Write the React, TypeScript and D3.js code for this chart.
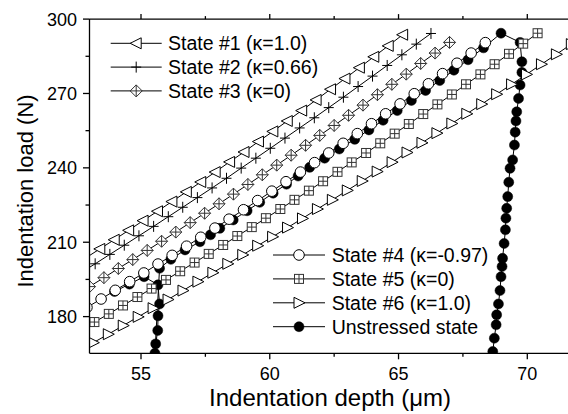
import React from "react";
import * as d3 from "d3";

// indentation depth (um) / load (N)
const state1X = [52.8, 53.4, 53.96, 54.52, 55.08, 55.64, 56.2, 56.76, 57.32, 57.88, 58.44, 59.0, 59.56, 60.12, 60.68, 61.24, 61.8, 62.36, 62.92, 63.48, 64.04, 64.6, 65.16];
const state1Y = [203.3, 207.3, 211.0, 214.8, 218.7, 222.5, 226.4, 230.3, 234.3, 238.3, 242.4, 246.4, 250.6, 254.7, 258.9, 263.1, 267.4, 271.7, 276.0, 280.4, 284.8, 289.2, 293.7];

const state2X = [52.66, 53.22, 53.79, 54.35, 54.92, 55.49, 56.06, 56.62, 57.19, 57.76, 58.32, 58.89, 59.46, 60.02, 60.59, 61.16, 61.73, 62.29, 62.86, 63.43, 63.99, 64.56, 65.13, 65.69, 66.26];
const state2Y = [197.7, 201.3, 205.1, 208.8, 212.6, 216.4, 220.3, 224.1, 228.0, 231.9, 235.8, 239.9, 243.9, 247.9, 252.0, 256.1, 260.2, 264.3, 268.5, 272.8, 277.0, 281.3, 285.6, 289.9, 294.2];

const state3X = [53.0, 53.56, 54.12, 54.68, 55.24, 55.8, 56.35, 56.91, 57.47, 58.03, 58.59, 59.15, 59.71, 60.27, 60.83, 61.39, 61.94, 62.5, 63.06, 63.62, 64.18, 64.74, 65.3, 65.86, 66.42, 66.98];
const state3Y = [192.1, 195.7, 199.4, 203.0, 206.7, 210.4, 214.1, 217.9, 221.7, 225.5, 229.4, 233.3, 237.2, 241.1, 245.1, 249.1, 253.1, 257.1, 261.2, 265.3, 269.5, 273.7, 277.8, 282.1, 286.3, 290.6];

const state4X = [52.9, 53.45, 54.0, 54.56, 55.11, 55.66, 56.21, 56.77, 57.32, 57.87, 58.42, 58.98, 59.53, 60.08, 60.63, 61.19, 61.74, 62.29, 62.85, 63.4, 63.95, 64.5, 65.06, 65.61, 66.16, 66.71, 67.27, 67.82, 68.37];
const state4Y = [183.7, 187.1, 190.6, 194.1, 197.6, 201.2, 204.7, 208.4, 212.0, 215.7, 219.3, 223.1, 226.8, 230.6, 234.4, 238.3, 242.1, 246.0, 249.9, 253.8, 257.8, 261.8, 265.8, 269.9, 273.9, 278.0, 282.2, 286.3, 290.5];

const state5X = [52.63, 53.19, 53.75, 54.3, 54.86, 55.41, 55.97, 56.52, 57.08, 57.63, 58.19, 58.74, 59.3, 59.85, 60.41, 60.96, 61.52, 62.07, 62.63, 63.18, 63.74, 64.29, 64.85, 65.4, 65.96, 66.51, 67.07, 67.62, 68.18, 68.73, 69.29, 69.84, 70.4];
const state5Y = [174.5, 177.8, 181.1, 184.5, 187.9, 191.3, 194.8, 198.3, 201.8, 205.3, 208.9, 212.5, 216.1, 219.7, 223.4, 227.1, 230.8, 234.6, 238.4, 242.2, 246.0, 249.9, 253.8, 257.7, 261.7, 265.6, 269.6, 273.7, 277.7, 281.8, 286.0, 290.1, 294.3];

const state6X = [52.57, 53.15, 53.73, 54.31, 54.89, 55.47, 56.05, 56.63, 57.21, 57.79, 58.37, 58.95, 59.53, 60.11, 60.69, 61.27, 61.85, 62.43, 63.01, 63.59, 64.17, 64.75, 65.33, 65.91, 66.49, 67.07, 67.65, 68.23, 68.81, 69.39, 69.97, 70.55, 71.13, 71.71];
const state6Y = [166.3, 169.5, 172.9, 176.4, 179.9, 183.4, 186.9, 190.5, 194.1, 197.7, 201.3, 204.9, 208.6, 212.2, 215.9, 219.6, 223.4, 227.1, 230.9, 234.7, 238.5, 242.3, 246.2, 250.1, 254.0, 257.9, 261.8, 265.7, 269.7, 273.7, 277.7, 281.8, 285.8, 289.9];

const unstressedX = [53.97, 54.55, 55.12, 55.66, 55.72, 55.66, 55.65, 55.57, 55.54, 55.72, 56.16, 56.71, 57.29, 57.7, 58.06, 58.58, 59.12, 59.61, 60.13, 60.65, 61.1, 61.55, 62.13, 62.7, 63.3, 63.85, 64.4, 64.95, 65.5, 66.05, 66.6, 67.15, 67.7, 68.3, 68.98, 69.72, 69.79, 69.79, 69.72, 69.66, 69.59, 69.56, 69.53, 69.5, 69.43, 69.33, 69.28, 69.24, 69.2, 69.17, 69.15, 69.1, 69.04, 69.02, 68.98, 68.94, 68.88, 68.81, 68.79, 68.72, 68.66];
const unstressedY = [190.1, 193.1, 196.1, 192.8, 185.1, 180.3, 174.4, 169.0, 165.2, 199.5, 203.1, 206.9, 210.2, 213.0, 215.6, 219.0, 222.7, 226.1, 229.8, 233.4, 236.7, 240.2, 243.9, 247.6, 251.5, 255.3, 259.2, 263.1, 267.2, 271.2, 275.2, 279.4, 283.6, 288.4, 294.3, 290.6, 282.8, 278.5, 273.4, 268.0, 262.6, 258.9, 254.4, 249.2, 243.2, 239.8, 234.2, 228.4, 223.7, 219.7, 215.0, 209.5, 203.5, 200.2, 196.1, 190.5, 185.1, 180.7, 176.7, 171.3, 165.9];

const xTicks = [55, 60, 65, 70];
const xMinorTicks = [57.5, 62.5, 67.5];
const yTicks = [180, 210, 240, 270, 300];
const yMinorTicks = [195, 225, 255, 285];

const FONT = "'Liberation Sans', Arial, sans-serif";

const left = 89.5;
const right = 568.5;
const top = 19.1;
const bottom = 353.3;

const x = d3.scaleLinear().domain([53, 71.6]).range([left, right]);
const y = d3.scaleLinear().domain([165.2, 300]).range([bottom, top]);

function Marker({ shape, cx, cy }) {
  switch (shape) {
    case "triLeft":
      return <path d={`M${cx - 6},${cy}L${cx + 5},${cy - 5.5}L${cx + 5},${cy + 5.5}Z`} fill="#fff" stroke="#000" strokeWidth={1} />;
    case "triRight":
      return <path d={`M${cx + 6},${cy}L${cx - 5},${cy - 5.5}L${cx - 5},${cy + 5.5}Z`} fill="#fff" stroke="#000" strokeWidth={1} />;
    case "plus":
      return <path d={`M${cx - 5},${cy}H${cx + 5}M${cx},${cy - 5.5}V${cy + 5.5}`} stroke="#000" strokeWidth={1} fill="none" />;
    case "diamond":
      return (
        <g stroke="#333" strokeWidth={1}>
          <path d={`M${cx},${cy - 6}L${cx + 6},${cy}L${cx},${cy + 6}L${cx - 6},${cy}Z`} fill="#fff" />
          <path d={`M${cx - 6},${cy}H${cx + 6}M${cx},${cy - 6}V${cy + 6}`} fill="none" />
        </g>
      );
    case "square":
      return (
        <g stroke="#333" strokeWidth={1}>
          <rect x={cx - 4.5} y={cy - 4.5} width={9} height={9} fill="#fff" />
          <path d={`M${cx - 4.5},${cy}H${cx + 4.5}M${cx},${cy - 4.5}V${cy + 4.5}`} fill="none" />
        </g>
      );
    case "circle":
      return <circle cx={cx} cy={cy} r={5.3} fill="#fff" stroke="#000" strokeWidth={1} />;
    case "dot":
      return <circle cx={cx} cy={cy} r={5} fill="#000" stroke="#000" strokeWidth={0.5} />;
    default:
      return null;
  }
}

const series = [
  { key: "u", label: "Unstressed state", xs: unstressedX, ys: unstressedY, shape: "dot" },
  { key: "s1", label: "State #1 (κ=1.0)", xs: state1X, ys: state1Y, shape: "triLeft" },
  { key: "s2", label: "State #2 (κ=0.66)", xs: state2X, ys: state2Y, shape: "plus" },
  { key: "s3", label: "State #3 (κ=0)", xs: state3X, ys: state3Y, shape: "diamond" },
  { key: "s4", label: "State #4 (κ=-0.97)", xs: state4X, ys: state4Y, shape: "circle" },
  { key: "s5", label: "State #5 (κ=0)", xs: state5X, ys: state5Y, shape: "square" },
  { key: "s6", label: "State #6 (κ=1.0)", xs: state6X, ys: state6Y, shape: "triRight" },
];

const legendTop = ["s1", "s2", "s3"];
const legendBottom = ["s4", "s5", "s6", "u"];

const line = d3
  .line<[number, number]>()
  .x((d) => x(d[0]))
  .y((d) => y(d[1]));

function Legend({ keys, lineX0, lineX1, textX, y0, step }) {
  return (
    <g>
      {keys.map((k, i) => {
        const s = series.find((d) => d.key === k);
        const cy = y0 + i * step;
        return (
          <g key={k}>
            <line x1={lineX0} x2={lineX1} y1={cy} y2={cy} stroke="#000" strokeWidth={1} />
            <Marker shape={s.shape} cx={(lineX0 + lineX1) / 2} cy={cy} />
            <text x={textX} y={cy + 7} fontSize={19.5} fontFamily={FONT} fill="#000">
              {s.label}
            </text>
          </g>
        );
      })}
    </g>
  );
}

export default function App() {
  return (
    <svg width={568} height={414} style={{ position: "absolute", left: 0, top: 0, background: "#fff" }}>
      <defs>
        <clipPath id="plot">
          <rect x={left} y={top} width={right - left} height={bottom - top} />
        </clipPath>
      </defs>

      <g clipPath="url(#plot)">
        {series.map((s) => {
          const pts = s.xs.map((v, i) => [v, s.ys[i]] as [number, number]);
          return (
            <g key={s.key}>
              <path d={line(pts)} fill="none" stroke="#000" strokeWidth={1} />
              {pts.map((p, i) => (
                <Marker key={i} shape={s.shape} cx={x(p[0])} cy={y(p[1])} />
              ))}
            </g>
          );
        })}
      </g>

      {/* axes frame */}
      <g stroke="#000" strokeWidth={1.3} fill="none">
        <line x1={left} x2={left} y1={top} y2={bottom} />
        <line x1={left} x2={right} y1={bottom} y2={bottom} />
        <line x1={left} x2={right} y1={top} y2={top} />
        {xTicks.map((t) => (
          <g key={t}>
            <line x1={x(t)} x2={x(t)} y1={bottom} y2={bottom + 6} />
            <line x1={x(t)} x2={x(t)} y1={top} y2={top - 5} />
          </g>
        ))}
        {xMinorTicks.map((t) => (
          <g key={t}>
            <line x1={x(t)} x2={x(t)} y1={bottom} y2={bottom + 3.5} />
            <line x1={x(t)} x2={x(t)} y1={top} y2={top - 3} />
          </g>
        ))}
        {yTicks.map((t) => (
          <line key={t} x1={left - 6.5} x2={left} y1={y(t)} y2={y(t)} />
        ))}
        {yMinorTicks.map((t) => (
          <line key={t} x1={left - 4} x2={left} y1={y(t)} y2={y(t)} />
        ))}
      </g>

      <g fontFamily={FONT} fontSize={18} fill="#000">
        {xTicks.map((t) => (
          <text key={t} x={x(t)} y={380} textAnchor="middle">
            {t}
          </text>
        ))}
        {yTicks.map((t) => (
          <text key={t} x={77} y={y(t) + 6.5} textAnchor="end">
            {t}
          </text>
        ))}
      </g>

      <text x={330} y={406} textAnchor="middle" fontFamily={FONT} fontSize={24}>
        Indentation depth (μm)
      </text>
      <text transform="translate(33,191) rotate(-90)" textAnchor="middle" fontFamily={FONT} fontSize={22}>
        Indentation load (N)
      </text>

      <Legend keys={legendTop} lineX0={110.7} lineX1={161.7} textX={168} y0={43.3} step={23.8} />
      <Legend keys={legendBottom} lineX0={273} lineX1={325} textX={331.7} y0={255} step={23.9} />
    </svg>
  );
}
